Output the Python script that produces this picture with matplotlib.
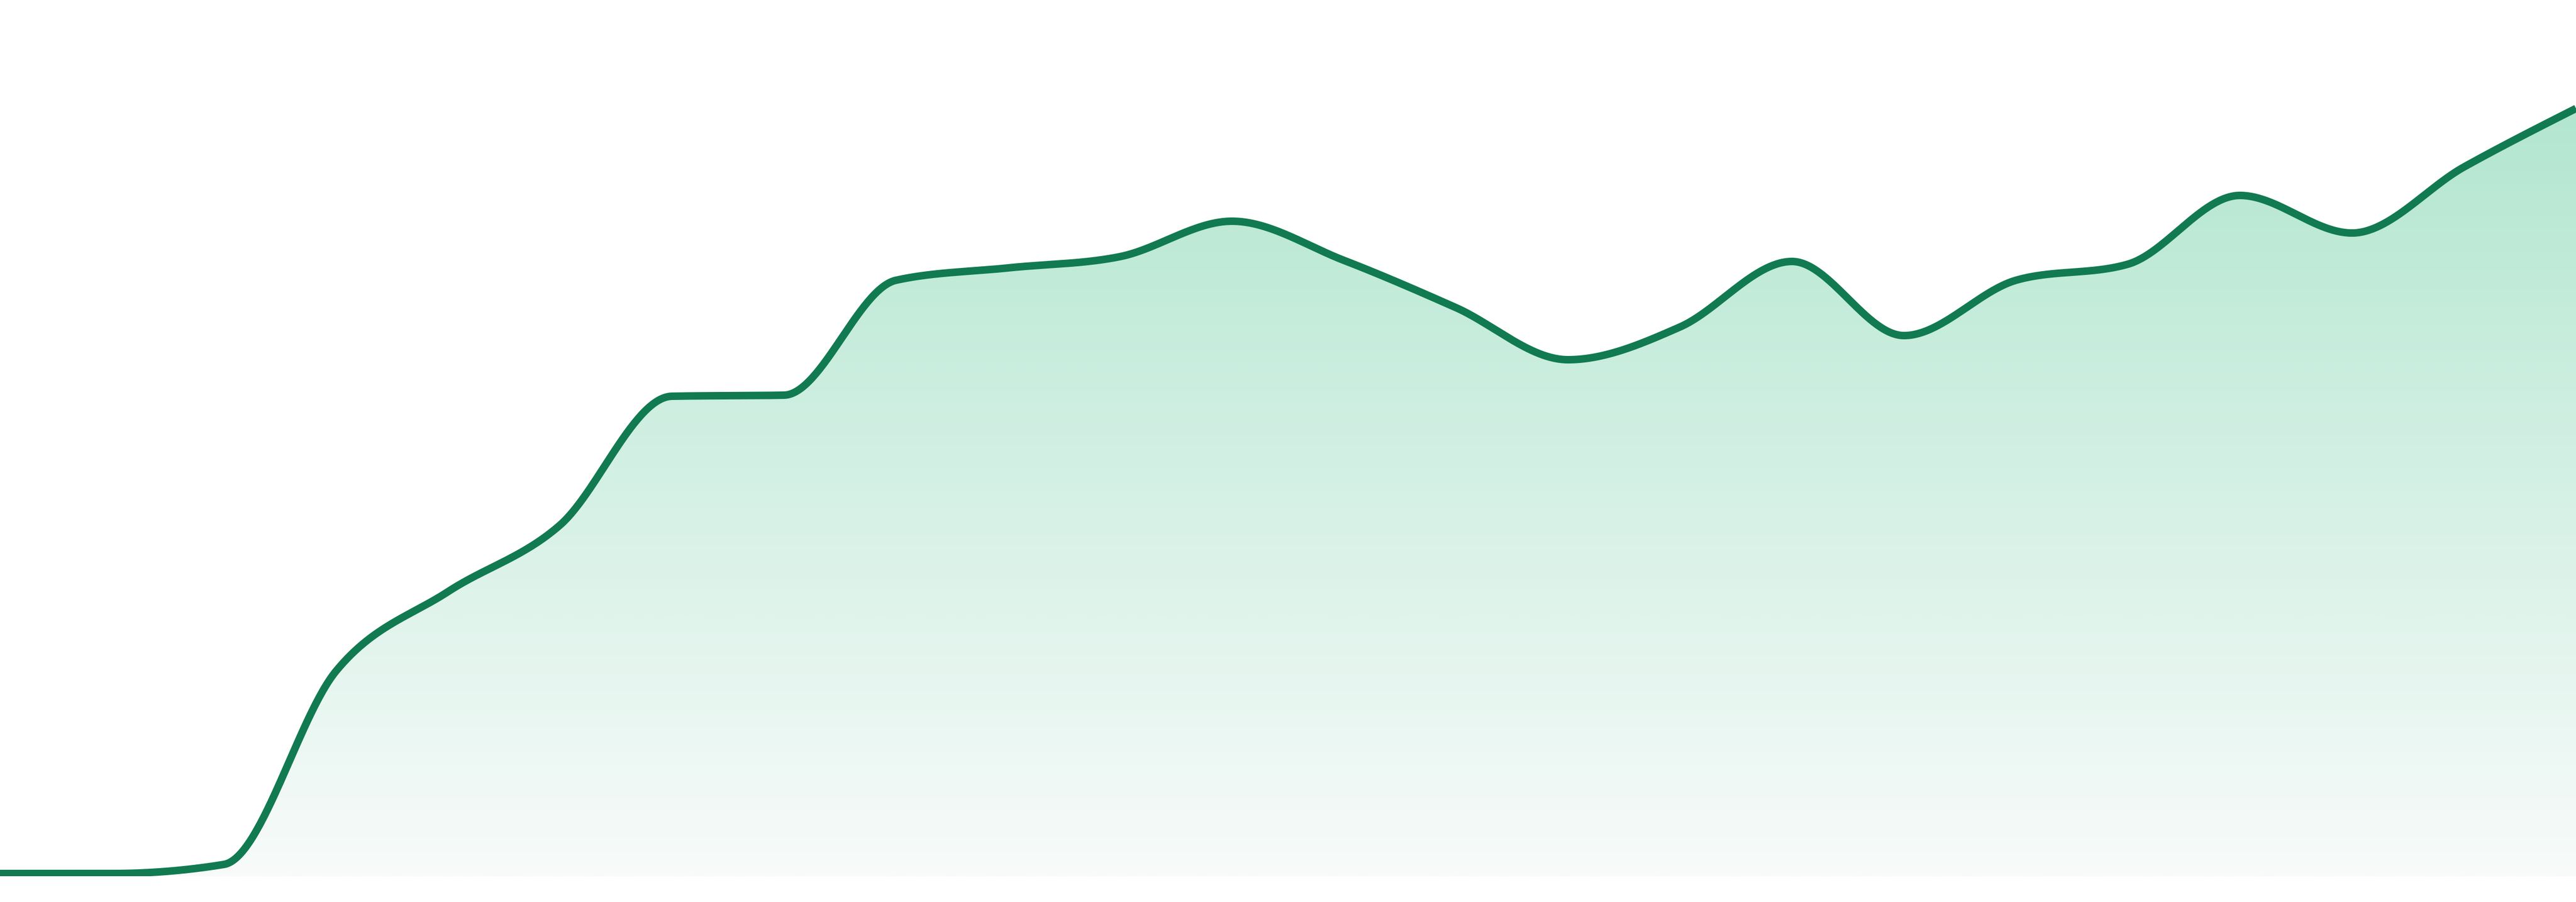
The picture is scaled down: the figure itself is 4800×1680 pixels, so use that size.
import numpy as np
import matplotlib
matplotlib.use("Agg")
import matplotlib.pyplot as plt
from matplotlib.colors import LinearSegmentedColormap
from matplotlib.patches import Rectangle

# ---- data ----
x_idx = list(range(24))
values = [0.5, 0.5, 2.2, 38.2, 53.0, 65.4, 89.4, 89.6, 111.0, 113.3, 115.4, 122.0,
          114.7, 105.9, 96.2, 102.3, 114.5, 100.7, 111.0, 114.0, 126.8, 119.8, 132.1, 143.0]

line_color = "#117a51"
fill_top = (178 / 255, 230 / 255, 208 / 255)
fill_bottom = (248 / 255, 251 / 255, 250 / 255)


def monotone_x(xs, ys, n=60):
    """d3 curveMonotoneX-style rendering of the data points."""
    xs = np.asarray(xs, float)
    ys = np.asarray(ys, float)
    m = len(xs)
    t = np.zeros(m)
    for i in range(1, m - 1):
        h0 = xs[i] - xs[i - 1]
        h1 = xs[i + 1] - xs[i]
        s0 = (ys[i] - ys[i - 1]) / h0
        s1 = (ys[i + 1] - ys[i]) / h1
        p = (s0 * h1 + s1 * h0) / (h0 + h1)
        t[i] = (np.sign(s0) + np.sign(s1)) * min(abs(s0), abs(s1), 0.5 * abs(p))
    h = xs[1] - xs[0]
    t[0] = (3 * (ys[1] - ys[0]) / h - t[1]) / 2
    h = xs[-1] - xs[-2]
    t[-1] = (3 * (ys[-1] - ys[-2]) / h - t[-2]) / 2
    px, py = [], []
    u = np.linspace(0, 1, n)
    for i in range(m - 1):
        x0, x1 = xs[i], xs[i + 1]
        y0, y1 = ys[i], ys[i + 1]
        dx = (x1 - x0) / 3
        P0 = (x0, y0)
        P1 = (x0 + dx, y0 + dx * t[i])
        P2 = (x1 - dx, y1 - dx * t[i + 1])
        P3 = (x1, y1)
        b0 = (1 - u) ** 3
        b1 = 3 * (1 - u) ** 2 * u
        b2 = 3 * (1 - u) * u ** 2
        b3 = u ** 3
        bx = b0 * P0[0] + b1 * P1[0] + b2 * P2[0] + b3 * P3[0]
        by = b0 * P0[1] + b1 * P1[1] + b2 * P2[1] + b3 * P3[1]
        if i > 0:
            bx, by = bx[1:], by[1:]
        px.append(bx)
        py.append(by)
    return np.concatenate(px), np.concatenate(py)


cx, cy = monotone_x(x_idx, values)

fig = plt.figure(figsize=(48, 16.8), dpi=100)
fig.patch.set_facecolor("white")
ax = fig.add_axes([0, 0, 1, 1])
ax.set_xlim(0, 23)
ax.set_ylim(-4.8, 163.2)
ax.axis("off")

# gradient fill under the curve
poly = ax.fill_between(cx, cy, 0, color="none", linewidth=0)
top_val = max(values) + 0.7
cmap = LinearSegmentedColormap.from_list("g", [fill_bottom, fill_top])
grad = np.linspace(0, 1, 512).reshape(-1, 1)
im = ax.imshow(grad, extent=[0, 23, 0, top_val], origin="lower", aspect="auto",
               cmap=cmap, interpolation="bilinear", zorder=1)
path = poly.get_paths()[0]
im.set_clip_path(path, ax.transData)

# line
ln, = ax.plot(cx, cy, color=line_color, linewidth=10.1, solid_capstyle="butt",
              solid_joinstyle="round", zorder=3)
clip = Rectangle((0, 0), 23, 200, transform=ax.transData)
ln.set_clip_path(clip)

fig.savefig("out.png", dpi=100, facecolor="white")
